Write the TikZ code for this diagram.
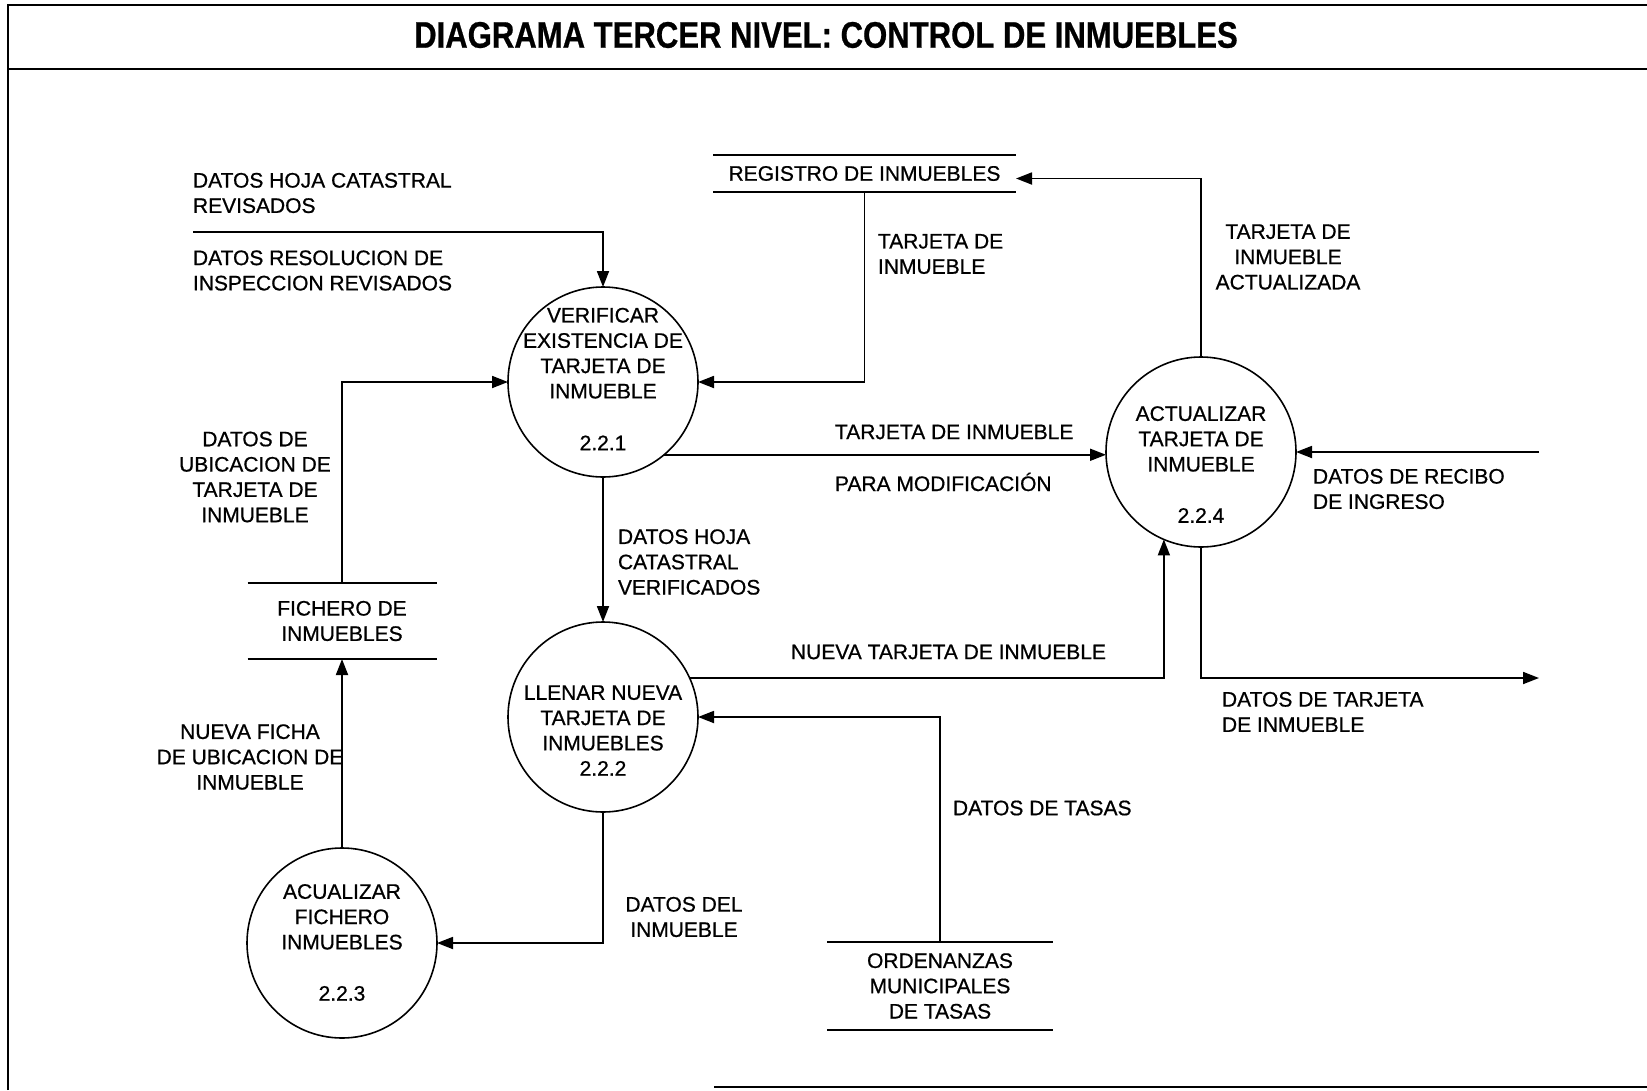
\documentclass[tikz,border=0pt]{standalone}
\usepackage{fontspec}
\setmainfont[FakeBold=0.7]{Liberation Sans}
\usetikzlibrary{arrows.meta}
\begin{document}
\begin{tikzpicture}[x=1pt,y=-1pt,
  every node/.style={font=\fontsize{21}{25.3}\selectfont, inner sep=0pt, outer sep=0pt},
  proc/.style={draw, circle, minimum size=190pt, line width=1.6pt},
  ptext/.style={align=center},
  lbl/.style={align=left, anchor=west},
  clbl/.style={align=center},
  store/.style={align=center},
  rule/.style={line width=1.8pt},
  frame/.style={line width=2.4pt},
  flow/.style={line width=1.8pt, -{Triangle[length=16pt,width=12pt]}}]
\useasboundingbox (0,0) rectangle (1647,1090);

% outer frame and title band
\draw[frame] (8,1090) -- (8,5) -- (1647,5);
\draw[frame] (8,69) -- (1647,69);
\draw[frame] (714,1087) -- (1647,1087);
\node (title) at (826,35) {\fontsize{37}{40}\selectfont\bfseries\scalebox{0.84}[1]{DIAGRAMA TERCER NIVEL: CONTROL DE INMUEBLES}};

% processes
\node[proc] (p1) at (603,382) {};
\node[proc] (p2) at (603,717) {};
\node[proc] (p3) at (342,943) {};
\node[proc] (p4) at (1201,452) {};
\node[ptext] (t1) at (603,379) {VERIFICAR\\EXISTENCIA DE\\TARJETA DE\\INMUEBLE\\[26.5pt]2.2.1};
\node[ptext] (t2) at (603,730.5) {LLENAR NUEVA\\TARJETA DE\\INMUEBLES\\2.2.2};
\node[ptext] (t3) at (342,942.5) {ACUALIZAR\\FICHERO\\INMUEBLES\\[26pt]2.2.3};
\node[ptext] (t4) at (1201,464.5) {ACTUALIZAR\\TARJETA DE\\INMUEBLE\\[26pt]2.2.4};

% data stores
\node[store, minimum width=303pt, minimum height=37pt] (reg) at (864.5,173.5) {REGISTRO DE INMUEBLES};
\draw[rule] (reg.north west) -- (reg.north east);
\draw[rule] (reg.south west) -- (reg.south east);
\node[store, minimum width=189pt, minimum height=76pt] (fich) at (342,621) {FICHERO DE\\INMUEBLES};
\draw[rule] (fich.north west) -- (fich.north east);
\draw[rule] (fich.south west) -- (fich.south east);
\node[store, minimum width=226pt, minimum height=88pt] (ord) at (940,986) {ORDENANZAS\\MUNICIPALES\\DE TASAS};
\draw[rule] (ord.north west) -- (ord.north east);
\draw[rule] (ord.south west) -- (ord.south east);

% external ends
\coordinate (in1) at (193,232);
\coordinate (in4) at (1539,452);
\coordinate (out4) at (1539,678);

% flows
\draw[flow] (in1) -| (p1);
\draw[flow] (fich.north) |- (p1.west);
\draw[flow] (reg.south) |- (p1.east);
\draw[flow] (p4.north) |- ([yshift=-5pt]reg.east);
\draw[flow] (p1.-50) -- (p1.-50 -| p4.west);
\draw[flow] (in4) -- (p4.east);
\draw[flow] (p1.south) -- (p2.north);
\draw[flow] (p2.24) -| (p4.-113.6);
\draw[flow] (p4.south) |- (out4);
\draw[flow] (ord.north) |- (p2.east);
\draw[flow] (p2.south) |- (p3.east);
\draw[flow] (p3.north) -- (fich.south);

% flow labels
\node[lbl] (l1a) at (193,193) {DATOS HOJA CATASTRAL\\REVISADOS};
\node[lbl] (l1b) at (193,270.5) {DATOS RESOLUCION DE\\INSPECCION REVISADOS};
\node[clbl] (l2) at (255,477) {DATOS DE\\UBICACION DE\\TARJETA DE\\INMUEBLE};
\node[lbl] (l3) at (878,254) {TARJETA DE\\INMUEBLE};
\node[clbl] (l4) at (1288,257) {TARJETA DE\\INMUEBLE\\ACTUALIZADA};
\node[lbl] (l5a) at (835,432) {TARJETA DE INMUEBLE};
\node[lbl] (l5b) at (835,482) {PARA MODIFICACIÓN};
\node[lbl] (l6) at (1313,489) {DATOS DE RECIBO\\DE INGRESO};
\node[lbl] (l7) at (618,562) {DATOS HOJA\\CATASTRAL\\VERIFICADOS};
\node[lbl] (l8) at (791,652) {NUEVA TARJETA DE INMUEBLE};
\node[lbl] (l9) at (1222,712) {DATOS DE TARJETA\\DE INMUEBLE};
\node[lbl] (l10) at (953,808) {DATOS DE TASAS};
\node[clbl] (l11) at (684,917) {DATOS DEL\\INMUEBLE};
\node[clbl] (l12) at (250,757) {NUEVA FICHA\\DE UBICACION DE\\INMUEBLE};
\end{tikzpicture}
\end{document}
